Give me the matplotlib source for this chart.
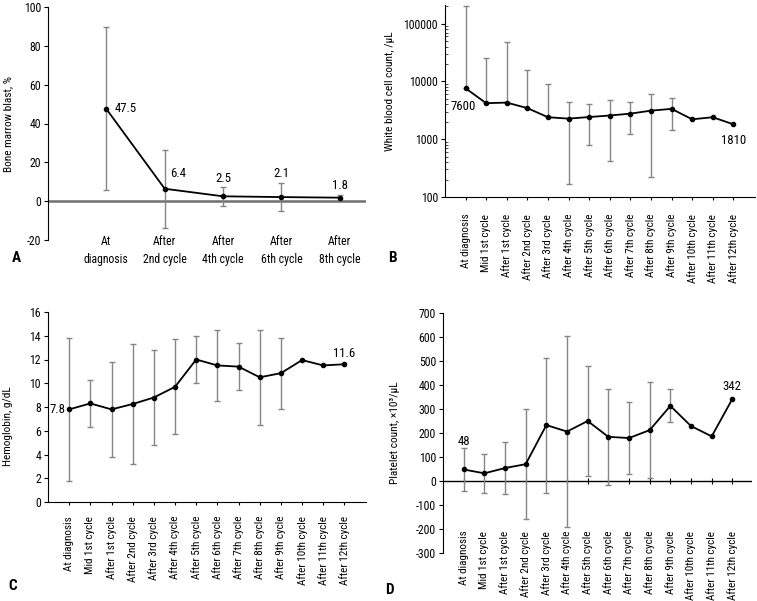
import matplotlib
matplotlib.use('Agg')
import matplotlib.pyplot as plt
import matplotlib.transforms as mtransforms
from matplotlib import font_manager
import numpy as np

# a narrow sans is closest to the original; pick what is installed
names = {f.name for f in font_manager.fontManager.ttflist}
narrow = [n for n in ['Liberation Sans Narrow', 'Arial Narrow', 'Roboto Condensed',
                      'Noto Sans Condensed', 'DejaVu Sans Condensed'] if n in names]
plt.rcParams['font.family'] = narrow + ['DejaVu Sans']
plt.rcParams['font.stretch'] = 'condensed'
plt.rcParams['axes.unicode_minus'] = False
plt.rcParams['font.size'] = 8

# Panel A: bone marrow blast
blast_labels = ['At\ndiagnosis', 'After\n2nd cycle', 'After\n4th cycle', 'After\n6th cycle', 'After\n8th cycle']
blast_mean = [47.5, 6.4, 2.5, 2.1, 1.8]
blast_sd = [42.0, 20.0, 5.0, 7.3, 1.3]

# Panels B-D share the cycle labels
cycle_labels = ['At diagnosis', 'Mid 1st cycle', 'After 1st cycle', 'After 2nd cycle',
                'After 3rd cycle', 'After 4th cycle', 'After 5th cycle', 'After 6th cycle',
                'After 7th cycle', 'After 8th cycle', 'After 9th cycle', 'After 10th cycle',
                'After 11th cycle', 'After 12th cycle']
wbc_mean = [7600, 4200, 4300, 3450, 2400, 2270, 2420, 2570, 2770, 3120, 3350, 2210, 2400, 1810]
wbc_sd = [194000, 20800, 43000, 12200, 6600, 2100, 1620, 2150, 1560, 2900, 1900, np.nan, np.nan, np.nan]
hgb_mean = [7.8, 8.3, 7.8, 8.25, 8.8, 9.7, 12.0, 11.5, 11.4, 10.5, 10.85, 11.95, 11.5, 11.6]
hgb_sd = [6.0, 2.0, 4.0, 5.05, 4.0, 4.0, 2.0, 3.0, 2.0, 4.0, 3.0, np.nan, np.nan, np.nan]
plt_mean = [48, 32, 54, 70, 233, 206, 250, 184, 179, 212, 313, 229, 186, 342]
plt_sd = [88, 81, 110, 228, 281, 399, 230, 200, 150, 200, 69, np.nan, np.nan, np.nan]

ERR = '#858585'
W, H = 757, 601
FS = 8.5    # tick labels
LAB = 8.2   # axis titles
CAT = 8     # rotated category labels
ANN = 9.2   # value labels


def box(l, t, r, b):
    return [l / W, 1 - b / H, (r - l) / W, (b - t) / H]


def draw_series(ax, mean, sd, log=False):
    mean = np.array(mean, float)
    sd = np.array(sd, float)
    x = np.arange(len(mean))
    ok = ~np.isnan(sd)
    lower = sd.copy()
    if log:
        lower = np.where(mean - sd > 0, sd, 0)
    ax.errorbar(x[ok], mean[ok], yerr=[lower[ok], sd[ok]], fmt='none',
                ecolor=ERR, elinewidth=1, capsize=2, capthick=1, zorder=2)
    ax.plot(x, mean, color='black', lw=1.3, marker='o', ms=3, zorder=3)
    return x


def style(ax):
    for s in ['top', 'right']:
        ax.spines[s].set_visible(False)
    ax.tick_params(axis='y', direction='out', length=3, width=0.8, pad=2, labelsize=FS)
    ax.tick_params(axis='x', direction='out', length=2, width=0.8, labelsize=CAT)


fig = plt.figure(figsize=(7.57, 6.01), dpi=100)

# ---- A ----
ax = fig.add_axes(box(48, 7, 366, 240))
x = draw_series(ax, blast_mean, blast_sd)
style(ax)
ax.set_xlim(-1, 4.45)
ax.set_ylim(-20, 100)
ax.set_yticks(range(-20, 101, 20))
ax.axhline(0, color='#707070', lw=1.8, zorder=1)
ax.spines['bottom'].set_visible(False)
ax.set_xticks(x)
ax.set_xticklabels([])
ax.tick_params(axis='x', length=0)
trans = mtransforms.blended_transform_factory(ax.transData, ax.transAxes)
for xi, lab in zip(x, blast_labels):
    ax.text(xi, 0.02, lab, transform=trans, ha='center', va='top', linespacing=1.45, fontsize=FS)
ax.set_ylabel('Bone marrow blast, %', fontsize=LAB)
ax.yaxis.set_label_coords(-0.11, 0.5)
ax.annotate('47.5', (x[0], blast_mean[0]), xytext=(6, 0), textcoords='offset points', ha='left', va='center', fontsize=ANN)
ax.annotate('6.4', (x[1], blast_mean[1]), xytext=(4, 11), textcoords='offset points', ha='left', va='center', fontsize=ANN)
ax.annotate('2.5', (x[2], blast_mean[2]), xytext=(0, 13), textcoords='offset points', ha='center', va='center', fontsize=ANN)
ax.annotate('2.1', (x[3], blast_mean[3]), xytext=(0, 17), textcoords='offset points', ha='center', va='center', fontsize=ANN)
ax.annotate('1.8', (x[4], blast_mean[4]), xytext=(0, 9), textcoords='offset points', ha='center', va='center', fontsize=ANN)
fig.text(12 / W, 1 - 258 / H, 'A', fontsize=11, fontweight='bold', va='center')

# ---- B ----
ax = fig.add_axes(box(445, 5, 755, 197))
ax.set_yscale('log')
x = draw_series(ax, wbc_mean, wbc_sd, log=True)
style(ax)
ax.set_xlim(-1, 14.05)
ax.set_ylim(100, 2.1e5)
ax.set_yticks([100, 1000, 10000, 100000])
ax.set_yticklabels(['100', '1000', '10000', '100000'])
ax.tick_params(axis='y', which='minor', direction='in', length=2, width=0.5)
ax.set_xticks(x)
ax.set_xticklabels(cycle_labels, rotation=90)
ax.tick_params(axis='x', pad=10)
ax.set_ylabel('White blood cell count, /μL', fontsize=LAB)
ax.yaxis.set_label_coords(-0.16, 0.55)
ax.annotate('7600', (x[0], wbc_mean[0]), xytext=(-2, -13), textcoords='offset points', ha='center', va='center', fontsize=ANN)
ax.annotate('1810', (x[-1], wbc_mean[-1]), xytext=(0, -12), textcoords='offset points', ha='center', va='center', fontsize=ANN)
fig.text(388 / W, 1 - 258 / H, 'B', fontsize=11, fontweight='bold', va='center')

# ---- C ----
ax = fig.add_axes(box(48, 312, 366, 502))
x = draw_series(ax, hgb_mean, hgb_sd)
style(ax)
ax.set_xlim(-1, 14.02)
ax.set_ylim(0, 16)
ax.set_yticks(range(0, 17, 2))
ax.set_xticks(x)
ax.set_xticklabels(cycle_labels, rotation=90)
ax.tick_params(axis='x', pad=8)
ax.set_ylabel('Hemoglobin, g/dL', fontsize=LAB)
ax.yaxis.set_label_coords(-0.11, 0.4)
ax.annotate('7.8', (x[0], hgb_mean[0]), xytext=(-3, 0), textcoords='offset points', ha='right', va='center', fontsize=ANN)
ax.annotate('11.6', (x[-1], hgb_mean[-1]), xytext=(0, 8), textcoords='offset points', ha='center', va='center', fontsize=ANN)
fig.text(8 / W, 1 - 586 / H, 'C', fontsize=11, fontweight='bold', va='center')

# ---- D ----
ax = fig.add_axes(box(443, 313, 752, 553))
x = draw_series(ax, plt_mean, plt_sd)
style(ax)
ax.set_xlim(-1, 13.95)
ax.set_ylim(-300, 700)
ax.set_yticks(range(-300, 701, 100))
ax.axhline(0, color='black', lw=1, zorder=1)
ax.spines['bottom'].set_visible(False)
ax.set_xticks(x)
ax.set_xticklabels([])
ax.tick_params(axis='x', length=0)
ax.plot(x, np.zeros(len(x)), ls='none', marker='|', ms=4, mew=0.8, color='black', zorder=1)
for xi, lab in zip(x, cycle_labels):
    ax.text(xi, -207, lab, rotation=90, ha='center', va='top', fontsize=CAT)
ax.set_ylabel('Platelet count, ×10³/μL', fontsize=LAB)
ax.yaxis.set_label_coords(-0.14, 0.5)
ax.annotate('48', (x[0], plt_mean[0]), xytext=(0, 20), textcoords='offset points', ha='center', va='center', fontsize=ANN)
ax.annotate('342', (x[-1], plt_mean[-1]), xytext=(0, 9), textcoords='offset points', ha='center', va='center', fontsize=ANN)
fig.text(385 / W, 1 - 590 / H, 'D', fontsize=11, fontweight='bold', va='center')

fig.savefig('out.png', dpi=100)
